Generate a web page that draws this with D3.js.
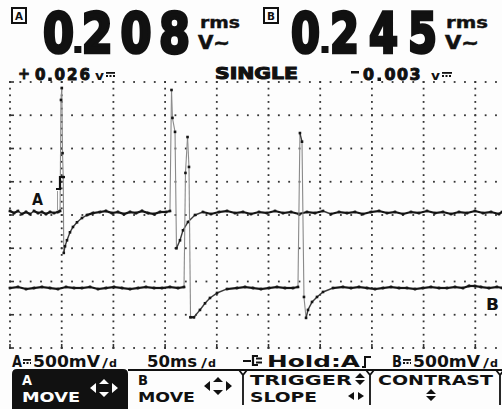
<!DOCTYPE html>
<html lang="en">
<head>
<meta charset="UTF-8">
<title>ScopeMeter screen</title>
<script src="https://d3js.org/d3.v7.min.js"></script>
<style>
  html, body { margin: 0; padding: 0; background: #fff; }
  svg { display: block; }
  text { font-family: "DejaVu Sans", "Liberation Sans", sans-serif; font-weight: bold; fill: #111; }
</style>
</head>
<body>
<svg id="scope" width="502" height="409"></svg>
<script>
// ---- readings shown on the screen ----
const readingA = "0.208";
const readingB = "0.245";
const dcA = "0.026";
const dcB = "0.003";
const modeLabel = "SINGLE";
const rangeA = "500mV";
const timebase = "50ms";
const holdLabel = "Hold:A";
const rangeB = "500mV";

// ---- captured traces: [time ms, volts] ----
const traceA = [
  [0,0.03],[3.9,0],[7.7,0.03],[11.6,-0.015],[15.5,0.015],[19.3,-0.015],[23.2,0.03],[27.1,0],
  [30.9,0.015],[34.8,-0.015],[38.7,0.015],[42.6,0],[46.4,0.015],[48.4,0.03],
  [49.3,1.70],[50.1,1.88],[50.8,0.90],[51.5,0.54],[52.0,-0.60],[53.2,-0.50],[55.1,-0.41],
  [58.0,-0.29],[60.9,-0.21],[64.8,-0.14],[69.6,-0.075],[74.5,-0.03],[80.3,0],[87.0,0.015],
  [92.8,0.03],[98.6,0],[104.4,0.015],[110.3,-0.015],[116.1,0.015],[121.9,0],[127.7,0.03],
  [133.5,0],[139.3,-0.015],[145.1,0.015],[150.9,0.015],[154.7,0.03],
  [156.2,1.85],[157.1,1.43],[159.6,1.22],[161.0,-0.53],[164.4,-0.41],[167.3,-0.26],
  [172.1,-0.135],[178.9,-0.03],[186.6,0.015],
  [194.4,-0.015],[202.1,0.015],[209.9,0.03],[217.6,0],[225.3,0.015],[233.1,-0.015],[240.8,0.015],
  [248.5,0],[256.3,0.03],[264.0,0],[271.8,0.015],[279.5,-0.015],[287.2,0.015],[295.0,0],
  [302.7,0.03],[310.4,-0.015],[318.2,0.015],[325.9,0],[333.6,0.015],[341.4,-0.015],[349.1,0.015],
  [356.9,0.03],[364.6,0],[372.3,0.015],[380.1,-0.015],[387.8,0.015],[395.5,0],[403.3,0.03],
  [411.0,0],[418.7,0.015],[426.5,-0.015],[434.2,0.015],[442.0,0],[449.7,0.03],[457.4,0],
  [465.2,0.015],[472.9,-0.015],[475.8,0.015]
];
const traceB = [
  [0,0],[7.7,0.015],[15.5,-0.015],[23.2,0],[30.9,0.015],[38.7,0],[46.4,-0.015],[54.2,0.015],
  [61.9,0],[69.6,0],[77.4,0.015],[85.1,-0.015],[92.8,0],[100.6,0.015],[108.3,0],[116.1,-0.015],
  [123.8,0],[131.5,0.015],[139.3,0],[147.0,0],[154.7,0.015],[162.5,0],[168.3,0.015],
  [169.7,1.73],[171.7,2.27],[173.1,1.82],[174.6,-0.44],[177.9,-0.44],[183.7,-0.33],[188.6,-0.23],
  [193.4,-0.15],[200.2,-0.075],[209.9,-0.015],[219.5,0],
  [227.3,0.015],[235.0,0],[242.7,-0.015],[250.5,0],[258.2,0.015],[265.9,0],[273.7,0],[278.5,0.015],
  [280.4,2.33],[282.4,2.20],[284.3,-0.135],[286.3,-0.45],[288.2,-0.33],[292.1,-0.21],
  [296.9,-0.135],[302.7,-0.06],[312.4,0],[322.0,0.015],
  [329.8,0],[337.5,0.015],[345.3,0],[353.0,-0.015],[360.7,0],[368.5,0.015],[376.2,0],[383.9,0],
  [391.7,-0.015],[399.4,0],[407.1,0.015],[414.9,0],[422.6,0],[430.4,0.015],[438.1,0],
  [443.9,0.03],[449.7,0.03],[455.5,0.015],[463.2,0],[470.9,0.015],[475.8,0]
];

// soft key labels
const softkeys = [
  { top: "A", bottom: "MOVE" },
  { top: "B", bottom: "MOVE" },
  { top: "TRIGGER", bottom: "SLOPE" },
  { top: "CONTRAST", bottom: "" }
];

const svg = d3.select("#scope");
svg.append("rect").attr("width", 502).attr("height", 409).attr("fill", "#fdfdfd");

// 10 div x 50 ms, 8 div vertical, 500 mV/div
const voltsPerDiv = 0.5;
const posA = 4.06, posB = 1.805;   // ground position of each channel in divisions
const x = d3.scaleLinear().domain([0, 500]).range([10, 527]);
const y = d3.scaleLinear().domain([0, 8]).range([348, 82]);

/* ---------- grid of dots ---------- */
const grid = svg.append("g").attr("fill", "#333");
const vLines = d3.range(0, 500, 50).filter(t => x(t) < 502);
const hLines = d3.range(0, 9);
vLines.forEach(t => {
  grid.selectAll(null).data(d3.range(0, 8.01, 0.2)).join("rect")
    .attr("x", x(t) - 0.9).attr("y", d => y(d) - 0.9)
    .attr("width", 1.8).attr("height", 1.8);
});
hLines.forEach(d => {
  grid.selectAll(null).data(d3.range(0, 500, 10).filter(t => x(t) < 502)).join("rect")
    .attr("x", t => x(t) - 0.9).attr("y", y(d) - 0.9)
    .attr("width", 1.8).attr("height", 1.8);
});
// small ticks on frame
grid.selectAll(null).data(hLines).join("rect")
  .attr("x", 10).attr("y", d => y(d) - 0.8).attr("width", 4).attr("height", 1.6);
grid.selectAll(null).data(vLines).join("rect")
  .attr("x", t => x(t) - 0.8).attr("y", y(0) - 4).attr("width", 1.6).attr("height", 4);

/* ---------- traces ---------- */
// flat parts are drawn heavy, slopes lighter, fast edges as thin grey lines
function drawTrace(data, pos) {
  const pts = data.map(([t, v]) => [x(t), y(pos + v / voltsPerDiv)]);
  const segs = d3.pairs(pts);
  const dy = ([a, b]) => Math.abs(b[1] - a[1]);
  const styles = [
    { test: s => dy(s) > 10, stroke: "#8a8a8a", width: 1.1 },
    { test: s => dy(s) > 2.5 && dy(s) <= 10, stroke: "#3a3a3a", width: 1.4 },
    { test: s => dy(s) <= 2.5, stroke: "#151515", width: 2.2 }
  ];
  const g = svg.append("g");
  styles.forEach(st => {
    g.append("g").selectAll("line").data(segs.filter(st.test)).join("line")
      .attr("x1", d => d[0][0]).attr("y1", d => d[0][1])
      .attr("x2", d => d[1][0]).attr("y2", d => d[1][1])
      .attr("stroke", st.stroke).attr("stroke-width", st.width).attr("stroke-linecap", "square");
  });
  g.append("g").selectAll("rect").data(pts).join("rect")
    .attr("x", d => d[0] - 1.3).attr("y", d => d[1] - 1.3)
    .attr("width", 2.6).attr("height", 2.6).attr("fill", "#151515");
}
drawTrace(traceA, posA);
drawTrace(traceB, posB);

/* ---------- text helpers ---------- */
function txt(parent, str, tx, ty, size, len, weight) {
  const t = parent.append("text").attr("x", tx).attr("y", ty)
    .attr("font-size", size).text(str);
  if (len) t.attr("textLength", len).attr("lengthAdjust", "spacingAndGlyphs");
  if (weight) t.attr("stroke", "#111").attr("stroke-width", weight).attr("stroke-linejoin", "miter");
  return t;
}
// LCD style number: fixed pitch per digit, decimal point as a square
function lcdNumber(str, x0, base, size, pitch, w, dotAdv, dot, weight) {
  let cx = x0;
  for (const c of str) {
    if (c === ".") {
      const mid = cx - (pitch - w) / 2 + dotAdv / 2;
      svg.append("rect").attr("x", mid - dot / 2).attr("y", base - dot + 1)
        .attr("width", dot).attr("height", dot).attr("fill", "#111");
      cx += dotAdv;
    } else {
      txt(svg, c, cx, base, size, w, weight);
      cx += pitch;
    }
  }
}
function dcSymbol(x0, yTop, w) {
  svg.append("rect").attr("x", x0).attr("y", yTop).attr("width", w).attr("height", 1.8).attr("fill", "#111");
  svg.append("line").attr("x1", x0).attr("x2", x0 + w).attr("y1", yTop + 4).attr("y2", yTop + 4)
    .attr("stroke", "#111").attr("stroke-width", 1.8).attr("stroke-dasharray", "2,1.5");
}
function boxedLetter(ch, bx, by) {
  svg.append("rect").attr("x", bx).attr("y", by).attr("width", 14).attr("height", 15)
    .attr("fill", "none").attr("stroke", "#111").attr("stroke-width", 2);
  txt(svg, ch, bx + 3, by + 12, 11, 8);
}

/* ---------- header readings ---------- */
boxedLetter("A", 12, 8);
lcdNumber(readingA, 43, 52, 56, 38.7, 31, 0, 7, 3.4);
txt(svg, "rms", 200, 28, 16, 40, 0.4);
txt(svg, "V~", 198, 49, 19, 32, 0.6);

boxedLetter("B", 264, 8);
lcdNumber(readingB, 291, 52, 56, 39, 29, 0, 7, 3.4);
txt(svg, "rms", 446, 28, 16, 42, 0.4);
txt(svg, "V~", 445, 49, 19, 34, 0.6);

txt(svg, "+", 18, 79, 16, 12, 0.8);
lcdNumber(dcA, 35, 80, 16, 12.5, 10.5, 7, 3.5, 1);
txt(svg, "v", 95, 80, 13, 9);
dcSymbol(106, 72, 9);

txt(svg, modeLabel, 215, 79, 15.5, 83, 1);

svg.append("rect").attr("x", 351).attr("y", 71).attr("width", 8).attr("height", 2.5).attr("fill", "#111");
lcdNumber(dcB, 363, 80, 16, 12.5, 11, 9, 3.5, 1);
txt(svg, "v", 431, 80, 13, 9);
dcSymbol(442, 72, 10);

/* ---------- channel markers ---------- */
txt(svg, "A", 32, 205, 15, 11);
txt(svg, "B", 486, 310, 16, 13);
svg.append("path").attr("d", "M56,189 H60 V177 H65").attr("fill", "none")
  .attr("stroke", "#111").attr("stroke-width", 2.2);
svg.append("line").attr("x1", 57.5).attr("x2", 57.5).attr("y1", 191).attr("y2", 210)
  .attr("stroke", "#999").attr("stroke-width", 1);

/* ---------- status line ---------- */
txt(svg, "A", 12, 367, 15, 10);
dcSymbol(23, 359, 8);
txt(svg, rangeA, 33, 367, 15, 67);
txt(svg, "/", 102, 367, 12, 6);
txt(svg, "d", 109, 367, 10, 8);

txt(svg, timebase, 147, 367, 15, 50);
txt(svg, "/", 201, 367, 12, 6);
txt(svg, "d", 208, 367, 10, 8);

svg.append("path").attr("d", "M243,361 H251 M258,356 H253 V365 H258 M256,358.5 H262 M256,362.5 H262")
  .attr("fill", "none").attr("stroke", "#111").attr("stroke-width", 2.2);
txt(svg, holdLabel, 267, 367, 15, 93);
svg.append("path").attr("d", "M362,367 H365 V357 H371").attr("fill", "none")
  .attr("stroke", "#111").attr("stroke-width", 2);

txt(svg, "B", 392, 367, 15, 10);
dcSymbol(403, 359, 8);
txt(svg, rangeB, 413, 367, 15, 67);
txt(svg, "/", 483, 367, 12, 6);
txt(svg, "d", 490, 367, 10, 8);

/* ---------- soft keys ---------- */
svg.append("path").attr("d", "M128,370 H502").attr("stroke", "#111").attr("stroke-width", 1.8);
svg.append("path").attr("d", "M12,409 V374 Q12,369 17,369 H123 Q128,369 128,374 V409 Z").attr("fill", "#111");
[243, 370, 500].forEach(dx => {
  svg.append("path").attr("d", `M${dx - 4},370 L${dx},375 L${dx + 4},370 M${dx},375 V405`)
    .attr("fill", "none").attr("stroke", "#111").attr("stroke-width", 1.8);
});

const keyX = [22, 138, 250, 378];
const keyTopW = [10, 10, 102, 115];
const keyBottomW = [58, 57, 67, 0];
softkeys.forEach((k, i) => {
  const col = i === 0 ? "#fdfdfd" : "#111";
  if (k.top) txt(svg, k.top, keyX[i], 385, 14.5, keyTopW[i]).style("fill", col);
  if (k.bottom) txt(svg, k.bottom, keyX[i], 402, 14.5, keyBottomW[i]).style("fill", col);
});

function moveIcon(cx, cy, col) {
  svg.append("path").attr("fill", col).attr("d",
    `M${cx - 14},${cy} L${cx - 8},${cy - 5} L${cx - 8},${cy + 5} Z ` +
    `M${cx + 14},${cy} L${cx + 8},${cy - 5} L${cx + 8},${cy + 5} Z ` +
    `M${cx},${cy - 9} L${cx - 5},${cy - 4} L${cx + 5},${cy - 4} Z ` +
    `M${cx},${cy + 9} L${cx - 5},${cy + 4} L${cx + 5},${cy + 4} Z`);
}
function upDown(cx, cy, col) {
  svg.append("path").attr("fill", col).attr("d",
    `M${cx},${cy - 6} L${cx - 5},${cy - 1} L${cx + 5},${cy - 1} Z M${cx},${cy + 6} L${cx - 5},${cy + 1} L${cx + 5},${cy + 1} Z`);
}
function leftRight(cx, cy, col) {
  svg.append("path").attr("fill", col).attr("d",
    `M${cx - 8},${cy} L${cx - 2},${cy - 4} L${cx - 2},${cy + 4} Z M${cx + 8},${cy} L${cx + 2},${cy - 4} L${cx + 2},${cy + 4} Z`);
}
moveIcon(104, 388, "#fdfdfd");
moveIcon(218, 386, "#111");
upDown(360, 379, "#111");
leftRight(356, 396, "#111");
upDown(431, 395, "#111");
</script>
</body>
</html>
